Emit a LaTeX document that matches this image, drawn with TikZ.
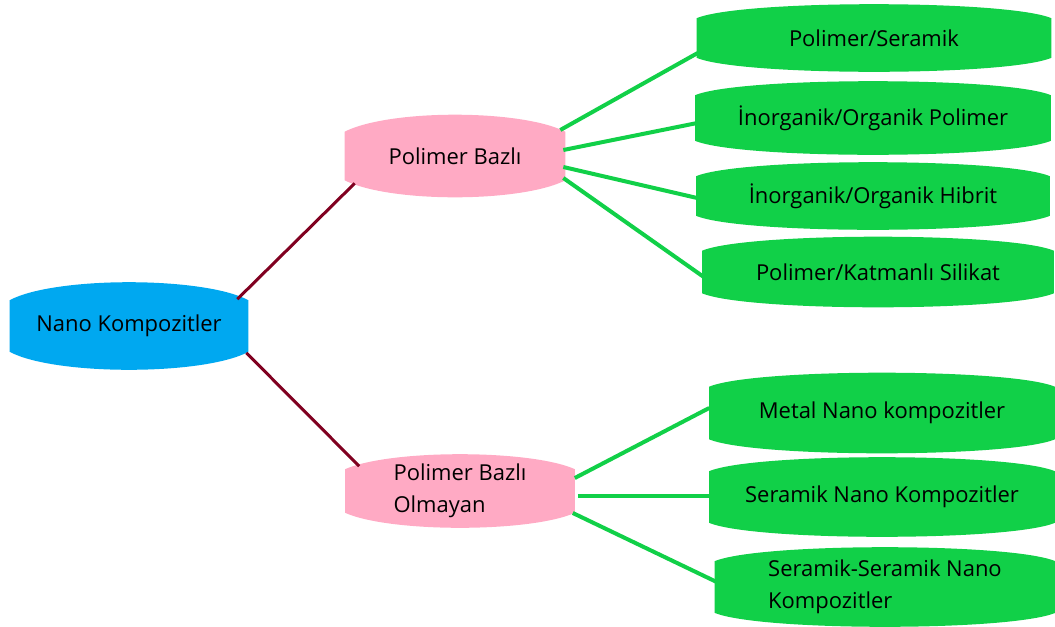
\documentclass[tikz,border=0pt]{standalone}
\usepackage{fontspec}
\setmainfont{Open Sans}
\usepackage{xcolor}
\usetikzlibrary{calc}
\usetikzlibrary{backgrounds}

\definecolor{nanoblue}{RGB}{0,168,240}
\definecolor{pinkbox}{RGB}{255,170,196}
\definecolor{greenbox}{RGB}{17,208,72}
\definecolor{darkred}{RGB}{128,0,32}

% fill a box with bulging top and bottom: node, colour, bulge
\newcommand{\fillbox}[3]{%
  \fill[#2] ($(#1.north west)+(0,#3)$)
    .. controls +(45,-1.33*#3) and +(-45,-1.33*#3) .. ($(#1.north east)+(0,#3)$)
    -- ($(#1.south east)+(0,-#3)$)
    .. controls +(-45,1.33*#3) and +(45,1.33*#3) .. ($(#1.south west)+(0,-#3)$)
    -- cycle;}

\tikzset{
  box/.style={inner sep=0pt, align=left, font=\fontsize{12.5}{18}\selectfont},
  redline/.style={draw=darkred, line width=0.06cm},
  greenline/.style={draw=greenbox, line width=0.08cm}
}

\begin{document}
\begin{tikzpicture}[x=0.02cm, y=-0.02cm]
    \useasboundingbox (0,0) rectangle (1055,626);
    \path (129,326) node [box, minimum width=4.76cm, minimum height=1.74cm] (nk) {Nano Kompozitler};
    \path (455,156) node [box, minimum width=4.4cm, minimum height=1.64cm] (pb) {Polimer Bazlı};
    \path (460,491) node [box, minimum width=4.58cm, minimum height=1.46cm] (pbo) {Polimer Bazlı\\Olmayan};
    \path (874,38) node [box, minimum width=7.08cm, minimum height=1.34cm] (ps) {Polimer/Seramik};
    \path (873,118) node [box, minimum width=7.1cm, minimum height=1.46cm] (iop) {İnorganik/Organik Polimer};
    \path (873,196) node [box, minimum width=7.06cm, minimum height=1.34cm] (ioh) {İnorganik/Organik Hibrit};
    \path (878,272) node [box, minimum width=7.02cm, minimum height=1.4cm] (pks) {Polimer/Katmanlı Silikat};
    \path (882,413) node [box, minimum width=6.9cm, minimum height=1.6cm] (mnk) {Metal Nano kompozitler};
    \path (882,497) node [box, minimum width=6.9cm, minimum height=1.58cm] (snk) {Seramik Nano Kompozitler};
    \path (885,587) node [box, minimum width=6.8cm, minimum height=1.58cm] (ssnk) {Seramik-Seramik Nano\\Kompozitler};
    \begin{pgfonlayer}{background}
        \fillbox{nk}{nanoblue}{18}
        \fillbox{pb}{pinkbox}{17}
        \fillbox{pbo}{pinkbox}{15}
        \foreach \n in {ps,iop,ioh,pks,mnk,snk,ssnk}
            {\fillbox{\n}{greenbox}{14}}
    \end{pgfonlayer}
    \draw [redline] ([shift={(-11,17)}]nk.north east) -- ([shift={(10,-14)}]pb.south west);
    \draw [redline] ([shift={(-2,-17)}]nk.south east) -- ([shift={(14,12)}]pbo.north west);
    \draw [greenline] ([shift={(-5,-26)}]pb.east) -- ([shift={(1,15)}]ps.west);
    \draw [greenline] ([shift={(-2,-6)}]pb.east) -- ([shift={(2,5)}]iop.west);
    \draw [greenline] ([shift={(-2,11)}]pb.east) -- ([shift={(1,2)}]ioh.west);
    \draw [greenline] ([shift={(-2,22)}]pb.east) -- ([shift={(3,6)}]pks.west);
    \draw [greenline] ([shift={(0,-13)}]pbo.east) -- ([shift={(0,-5)}]mnk.west);
    \draw [greenline] ([shift={(3,5)}]pbo.east) -- ([shift={(0,-1)}]snk.west);
    \draw [greenline] ([shift={(-2,22)}]pbo.east) -- ([shift={(2,-5)}]ssnk.west);
\end{tikzpicture}
\end{document}
